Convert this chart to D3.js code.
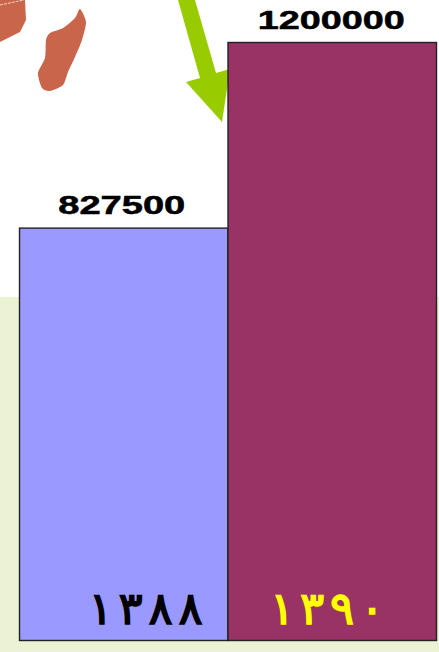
<!DOCTYPE html>
<html>
<head>
<meta charset="utf-8">
<script src="https://cdn.jsdelivr.net/npm/d3@7"></script>
<style>
  html, body { margin: 0; padding: 0; background: #fff; }
  svg { display: block; }
</style>
</head>
<body>
<svg id="chart"></svg>
<script>
// Two-bar comparison over a part-white, part-green backdrop
const years = ["۱۳۸۸", "۱۳۹۰"];
const values = [827500, 1200000];
const valueLabels = ["827500", "1200000"];

const WIDTH = 439;
const HEIGHT = 652;
const COLOR_BARS = ["#9999FF", "#993366"];
const COLOR_YEARS = ["#000000", "#FFFF00"];
const COLOR_LAND = "#C8654A";
const COLOR_ARROW = "#99CC00";
const DIGIT_STEP = 30;

const svg = d3.select("#chart").attr("width", WIDTH).attr("height", HEIGHT);

const x = d3.scaleBand().domain(years).range([19.5, 436.5]);
const y = d3.scaleLinear().domain([0, 1200000]).range([640.5, 42.5]);

// Backdrop
svg.append("rect").attr("width", WIDTH).attr("height", HEIGHT).attr("fill", "#fff");
svg.append("rect").attr("y", 297).attr("width", WIDTH).attr("height", HEIGHT - 297).attr("fill", "#ECF3D5");

// Bits of the map left over behind the chart
const line = d3.line().curve(d3.curveCardinalClosed.tension(0.3));
const landEl = svg.append("g").attr("fill", COLOR_LAND);
landEl.append("path").attr("d", line([
  [80, 9], [86, 22], [82, 40], [75, 57], [68, 72], [63, 85], [50, 91],
  [42, 88], [38, 73], [45, 58], [46, 40], [50, 33], [63, 28], [75, 18]
]));
landEl.append("path").attr("d", "M0,0 L25,0 L26,20 L20,32 L10,37 L0,42 Z");
svg.append("path")
  .attr("d", "M0,5 L24,0")
  .attr("stroke", "#F4D9CC")
  .attr("stroke-dasharray", "3 1");

// Arrow, its head runs under the purple bar
svg.append("path")
  .attr("d", d3.line()([[178, 0], [195, 0], [216, 73], [230, 69], [222, 122], [186, 82], [200, 78]]) + "Z")
  .attr("fill", COLOR_ARROW);

// Bars
svg.selectAll("rect.bar")
  .data(values)
  .join("rect")
  .attr("class", "bar")
  .attr("x", (d, i) => x(years[i]))
  .attr("y", (d) => y(d))
  .attr("width", x.bandwidth())
  .attr("height", (d) => y(0) - y(d))
  .attr("fill", (d, i) => COLOR_BARS[i])
  .attr("stroke", "#222")
  .attr("stroke-width", 1.4);

// Value labels, stretched wide like the source
svg.selectAll("text.value")
  .data(values)
  .join("text")
  .attr("class", "value")
  .attr("x", (d, i) => x(years[i]) + x.bandwidth() / 2 - (i === 0 ? 2 : 1))
  .attr("y", (d) => y(d) - 14)
  .attr("text-anchor", "middle")
  .attr("font-family", "'Liberation Sans', Arial, sans-serif")
  .attr("font-weight", "bold")
  .attr("font-size", 25)
  .attr("textLength", (d, i) => i === 0 ? 127 : 147)
  .attr("lengthAdjust", "spacingAndGlyphs")
  .attr("fill", "#000")
  .attr("stroke", "#000")
  .attr("stroke-width", 0.5)
  .text((d, i) => valueLabels[i]);

// Year labels in Persian digits, each digit placed apart
const yearEls = svg.selectAll("g.year")
  .data(years)
  .join("g")
  .attr("class", "year")
  .attr("transform", (d, i) => "translate(" + (x(d) + (i === 0 ? 81 : 54)) + ",624)")
  .attr("fill", (d, i) => COLOR_YEARS[i])
  .attr("stroke", (d, i) => COLOR_YEARS[i])
  .attr("stroke-width", 1.5);

yearEls.selectAll("text")
  .data((d) => Array.from(d))
  .join("text")
  .attr("x", (d, i) => i * DIGIT_STEP)
  .attr("text-anchor", "middle")
  .attr("font-family", "'DejaVu Sans', sans-serif")
  .attr("font-size", 45)
  .text((d) => d);
</script>
</body>
</html>
